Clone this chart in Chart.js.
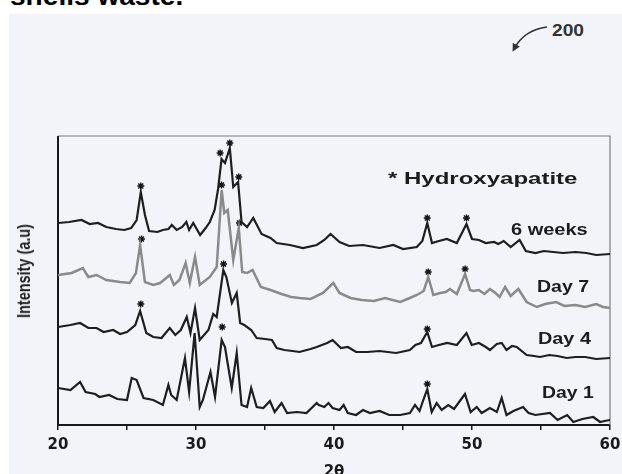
<!DOCTYPE html>
<html>
<head>
<meta charset="utf-8">
<script src="https://cdn.jsdelivr.net/npm/chart.js@4.4.0/dist/chart.umd.min.js"></script>
<style>
html, body { margin: 0; padding: 0; background: #fff; width: 622px; height: 474px; overflow: hidden; }
#scan { position: absolute; left: 9px; top: 14px; width: 613px; height: 460px; background: #f2f4fa; }
#wrap { position: absolute; left: 0; top: 0; width: 622px; height: 474px; }
.lbl { position: absolute; font-family: "Liberation Sans", Arial, sans-serif; font-weight: bold; color: #1c1c1c;
       white-space: nowrap; transform-origin: 0 50%; font-size: 16px; line-height: 16px; }
#ylab { position: absolute; left: -46px; top: 260px; width: 140px; line-height: 22px; text-align: center;
        font-family: "Liberation Sans", Arial, sans-serif;
        font-weight: bold; font-size: 19px; color: #1c1c1c; transform: rotate(-90deg) scaleX(0.76); white-space: nowrap; }
</style>
</head>
<body>
<div id="scan"></div>
<div class="lbl" style="left:10px; top:-17px; font-size:26px; line-height:26px; color:#000; transform:scaleX(1.08);">shells waste.</div>
<div class="lbl" style="left:552px; top:23px; transform:scaleX(1.2); color:#333;">200</div>
<svg style="position:absolute;left:0;top:0" width="622" height="474">
  <defs>
    <marker id="ah" markerWidth="8" markerHeight="8" refX="5" refY="4" orient="auto" markerUnits="userSpaceOnUse">
      <path d="M0,0 L8,4 L0,8 z" fill="#333"/>
    </marker>
  </defs>
  <path d="M547,27 Q524,30 514,49" stroke="#333" stroke-width="1.6" fill="none" marker-end="url(#ah)"/>
</svg>
<div id="wrap"><canvas id="chart" width="622" height="474"></canvas></div>
<div id="ylab">Intensity (a.u)</div>
<div class="lbl" style="left:388px; top:171px; transform:scaleX(1.5);">* Hydroxyapatite</div>
<div class="lbl" style="left:511px; top:222px; transform:scaleX(1.25);">6 weeks</div>
<div class="lbl" style="left:537px; top:279px; transform:scaleX(1.22);">Day 7</div>
<div class="lbl" style="left:538px; top:331px; transform:scaleX(1.24);">Day 4</div>
<div class="lbl" style="left:542px; top:385px; transform:scaleX(1.21);">Day 1</div>
<script>
// x axis: 2-theta (deg); y: offset intensity (a.u.), one trace stacked above the other
const xMin = 20, xMax = 60;
const xTickStep = 5;

// [2theta, intensity]
const weeks6 = [
  [20.0,202],[20.8,203],[21.7,205],[22.3,201],[22.9,202],[23.5,198],[24.2,196],[24.8,195],[25.3,197],[25.7,205],
  [26.0,233],[26.3,210],[26.6,194],[27.2,193],[27.6,195],[28.0,196],[28.25,200],[28.6,195],[29.0,198],[29.3,203],
  [29.5,195],[29.8,202],[30.3,190],[30.7,197],[31.0,203],[31.35,215],[31.6,236],[31.85,266],[32.1,262],[32.45,277],
  [32.7,238],[33.05,243],[33.3,203],[33.7,198],[34.15,207],[34.75,191],[35.4,187],[35.85,182],[36.8,180],[37.75,177],
  [38.75,180],[39.3,185],[39.75,191],[40.4,183],[41.1,179],[42.1,180],[43.3,177],[44.3,180],[45.0,176],[46.0,178],
  [46.4,184],[46.76,202],[47.1,182],[47.6,184],[48.17,186],[48.9,182],[49.6,201],[50.0,186],[50.5,185],[51.0,182],
  [51.6,183],[51.9,181],[52.3,184],[52.8,178],[53.45,185],[53.9,174],[54.6,172],[55.2,174],[55.9,173],[56.6,172],
  [57.5,173],[58.3,172],[59.0,170],[60.0,171]
];
const day7 = [
  [20.0,150],[21.0,152],[21.8,157],[22.2,148],[22.8,150],[23.5,145],[24.5,143],[25.2,142],[25.65,152],[25.95,180],
  [26.3,143],[26.9,140],[27.4,142],[28.1,150],[28.4,140],[28.8,145],[29.25,162],[29.55,142],[29.93,168],[30.27,140],
  [31.0,148],[31.5,158],[31.86,235],[32.05,212],[32.3,215],[32.7,165],[33.1,197],[33.35,153],[33.7,152],[34.1,155],
  [34.7,138],[35.4,135],[36.2,131],[36.9,128],[37.5,127],[38.3,126],[39.2,132],[39.95,142],[40.4,132],[41.2,127],
  [42.0,125],[42.9,124],[43.7,127],[44.8,123],[45.5,127],[46.0,130],[46.5,134],[46.83,148],[47.2,130],[47.7,132],
  [48.1,133],[48.4,136],[48.9,131],[49.5,151],[49.86,135],[50.1,134],[50.5,135],[50.9,131],[51.3,136],[51.7,132],
  [52.0,128],[52.4,138],[52.8,129],[53.36,136],[53.96,123],[54.7,118],[55.3,121],[56.1,123],[56.7,119],[57.5,120],
  [58.2,118],[59.0,121],[59.5,118],[60.0,117]
];
const day4 = [
  [20.0,98],[20.9,100],[21.6,102],[22.2,97],[22.8,97],[23.3,93],[24.0,95],[24.5,91],[25.0,93],[25.6,100],
  [25.95,114],[26.4,92],[26.9,88],[27.5,87],[28.1,97],[28.5,90],[28.9,95],[29.33,108],[29.6,92],[29.93,117],
  [30.27,85],[30.9,95],[31.25,111],[31.5,108],[31.98,155],[32.2,148],[32.6,122],[32.95,132],[33.2,102],[33.5,100],
  [34.0,95],[34.4,87],[35.0,86],[35.5,85],[35.85,77],[36.4,75],[37.0,74],[37.5,73],[38.3,76],[38.75,78],
  [39.5,82],[39.9,85],[40.5,77],[41.0,78],[41.6,73],[42.4,73],[43.3,74],[44.5,72],[45.5,75],[45.9,80],
  [46.3,82],[46.76,93],[47.1,78],[47.6,80],[48.2,82],[48.9,80],[49.6,92],[49.98,80],[50.5,82],[51.0,78],
  [51.3,75],[51.8,81],[52.15,82],[52.5,75],[52.9,79],[53.24,78],[53.96,70],[54.5,69],[54.93,68],[55.6,70],
  [56.2,69],[56.86,67],[57.5,68],[58.2,68],[59.0,66],[60.0,67]
];
const day1 = [
  [20.0,37],[20.9,35],[21.6,43],[22.0,33],[22.7,31],[23.0,28],[23.7,30],[24.3,26],[25.0,25],[25.34,47],
  [25.7,45],[26.2,27],[26.9,25],[27.6,20],[28.0,40],[28.2,30],[28.6,25],[29.2,67],[29.5,33],[29.9,92],
  [30.27,18],[30.5,25],[31.05,53],[31.38,28],[31.86,85],[32.1,78],[32.59,37],[32.95,72],[33.3,20],[33.7,18],
  [34.0,37],[34.4,18],[34.88,17],[35.36,24],[35.7,13],[36.2,22],[36.6,12],[37.3,13],[38.0,12],[38.75,22],
  [38.9,20],[39.3,18],[39.6,22],[39.9,17],[40.4,15],[40.7,20],[41.0,12],[41.6,10],[42.1,15],[42.6,12],
  [43.3,14],[44.0,10],[44.8,10],[45.5,12],[45.87,20],[46.2,14],[46.47,25],[46.76,36],[47.08,13],[47.44,22],
  [47.8,15],[48.28,20],[48.7,16],[49.49,31],[49.9,13],[50.34,18],[50.7,12],[51.3,17],[51.8,13],[52.15,27],
  [52.5,10],[53.0,14],[53.7,18],[54.1,12],[54.6,10],[55.65,12],[56.2,5],[56.9,10],[57.34,3],[58.0,6],
  [58.79,8],[59.28,3],[59.6,4],[60.0,5]
];

// hydroxyapatite peak markers (*)
const weeks6Stars = [[26.0,239],[31.75,272],[32.45,282],[33.1,248],[46.76,207],[49.6,207]];
const day7Stars = [[26.05,186],[31.85,240],[33.15,202],[46.83,153],[49.5,156]];
const day4Stars = [[26.0,121],[32.0,161],[46.76,96]];
const day1Stars = [[31.9,98],[46.76,41]];

const toXY = arr => arr.map(([x, y]) => ({ x, y }));

function trace(data, color, width) {
    return {
        type: 'line', data: toXY(data), borderColor: color, borderWidth: width,
        pointRadius: 0, tension: 0, fill: false
    };
}
function stars(data) {
    return {
        type: 'scatter', data: toXY(data), pointStyle: 'star', pointRadius: 3.5,
        borderColor: '#151515', borderWidth: 1.4, backgroundColor: '#151515'
    };
}

// box round the plot: bold left axis, thin grey top/right
const framePlugin = {
    id: 'frame',
    beforeDatasetsDraw(chart) {
        const { ctx, chartArea: a } = chart;
        ctx.save();
        ctx.strokeStyle = '#7d7d7d';
        ctx.lineWidth = 1.2;
        ctx.beginPath();
        ctx.moveTo(a.left, a.top);
        ctx.lineTo(a.right, a.top);
        ctx.lineTo(a.right, a.bottom);
        ctx.stroke();
        ctx.strokeStyle = '#1a1a1a';
        ctx.lineWidth = 2;
        ctx.beginPath();
        ctx.moveTo(a.left, a.top);
        ctx.lineTo(a.left, a.bottom);
        ctx.stroke();
        ctx.restore();
    }
};

new Chart(document.getElementById('chart'), {
    data: {
        datasets: [
            trace(weeks6, '#1e1e1e', 2.2),
            trace(day7, '#8a8a8a', 2.5),
            trace(day4, '#1e1e1e', 2.2),
            trace(day1, '#1e1e1e', 2.2),
            stars(weeks6Stars), stars(day7Stars), stars(day4Stars), stars(day1Stars)
        ]
    },
    options: {
        responsive: false,
        animation: false,
        layout: { padding: { left: 58, right: 12, top: 136, bottom: 0 } },
        plugins: { legend: { display: false }, tooltip: { enabled: false } },
        scales: {
            x: {
                type: 'linear', min: xMin, max: xMax,
                afterFit: s => { s.height = 49; },
                ticks: {
                    stepSize: xTickStep, autoSkip: false, padding: 1, color: '#1a1a1a',
                    font: { family: 'DejaVu Sans', weight: 'bold', size: 15, lineHeight: 1.85 },
                    callback: v => (v % 10 === 0 ? v : '')
                },
                grid: { display: true, drawOnChartArea: false, drawTicks: true, tickLength: 5, color: '#1a1a1a', lineWidth: 1.5 },
                border: { display: true, color: '#1a1a1a', width: 2 },
                title: {
                    display: true, text: '2θ', color: '#1a1a1a',
                    font: { family: 'DejaVu Sans', weight: 'bold', size: 15 },
                    padding: { top: 0, bottom: -7 }
                }
            },
            y: { type: 'linear', min: 0, max: 289, display: false }
        }
    },
    plugins: [framePlugin]
});
</script>
</body>
</html>
